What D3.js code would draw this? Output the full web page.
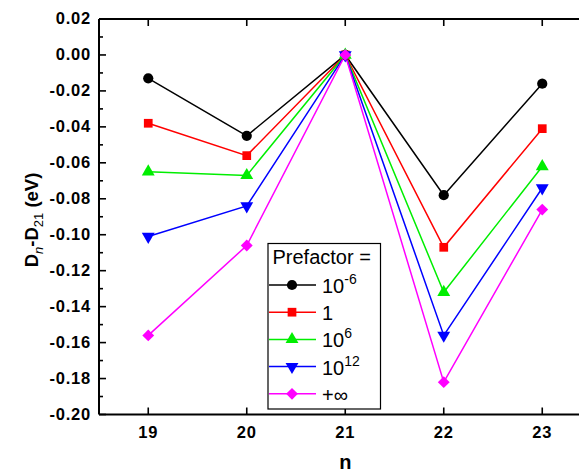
<!DOCTYPE html>
<html><head><meta charset="utf-8">
<script src="https://cdn.jsdelivr.net/npm/d3@7"></script>
<style>body{margin:0;background:#fff;} svg{display:block;font-family:Arial,"Liberation Sans",sans-serif;}</style>
</head><body>
<svg id="c" width="579" height="474"></svg>
<script>
const nValues = [19, 20, 21, 22, 23];
const seriesNames = ["1e-6", "1", "1e6", "1e12", "inf"];
const s1 = [-0.013, -0.045, 0, -0.078, -0.016];
const s2 = [-0.038, -0.056, 0, -0.107, -0.041];
const s3 = [-0.065, -0.067, 0, -0.132, -0.062];
const s4 = [-0.101, -0.084, 0, -0.156, -0.074];
const s5 = [-0.156, -0.106, 0, -0.182, -0.086];
const yTicks = [0.02, 0.00, -0.02, -0.04, -0.06, -0.08, -0.10, -0.12, -0.14, -0.16, -0.18, -0.20];
const colors = ["#000000", "#ff0000", "#00ee00", "#0000ff", "#ff00ff"];

const allSeries = [s1, s2, s3, s4, s5];
const svg = d3.select("#c");
const x = d3.scaleLinear().domain([18.5, 23.5]).range([99, 591.5]);
const y = d3.scaleLinear().domain([-0.20, 0.02]).range([414.5, 19]);

function markerPath(i) {
  if (i === 0) return d3.symbol().type(d3.symbolCircle).size(82)();
  if (i === 1) return d3.symbol().type(d3.symbolSquare).size(76)();
  if (i === 2 || i === 3) return d3.symbol().type(d3.symbolTriangle).size(72)();
  return d3.symbol().type(d3.symbolSquare).size(70)();
}
function markerTransform(i, px, py) {
  if (i === 3) return `translate(${px},${py}) rotate(180)`;
  if (i === 4) return `translate(${px},${py}) rotate(45)`;
  return `translate(${px},${py})`;
}

// series lines and markers
const line = d3.line().x((d, j) => x(nValues[j])).y(d => y(d));
allSeries.forEach((s, i) => {
  svg.append("path").datum(s).attr("d", line).attr("fill", "none")
    .attr("stroke", colors[i]).attr("stroke-width", 1.5);
});
allSeries.forEach((s, i) => {
  svg.selectAll(null).data(s).enter().append("path")
    .attr("d", markerPath(i))
    .attr("transform", (d, j) => markerTransform(i, x(nValues[j]), y(d)))
    .attr("fill", colors[i]);
});

// axes
const gBottom = svg.append("g").attr("transform", `translate(0,${y(-0.20)})`)
  .call(d3.axisBottom(x).offset(0).tickValues(nValues).tickSize(-7).tickPadding(12).tickFormat(d3.format("d")).tickSizeOuter(0));
const gTop = svg.append("g").attr("transform", `translate(0,${y(0.02)})`)
  .call(d3.axisTop(x).offset(0).tickValues(nValues).tickSize(-7).tickFormat("").tickSizeOuter(0));
const minorTicks = d3.range(0, 11).map(k => -0.19 + k * 0.02);
const gLeft = svg.append("g").attr("transform", `translate(${x(18.5)},0)`)
  .call(d3.axisLeft(y).offset(0).tickValues(yTicks).tickSize(-7).tickPadding(8).tickFormat(d3.format(".2f")).tickSizeOuter(0));
const gLeftMinor = svg.append("g").attr("transform", `translate(${x(18.5)},0)`)
  .call(d3.axisLeft(y).offset(0).tickValues(minorTicks).tickSize(-4).tickFormat("").tickSizeOuter(0));
gLeftMinor.select(".domain").remove();
[gBottom, gTop, gLeft, gLeftMinor].forEach(g => {
  g.selectAll(".domain").attr("stroke", "#000").attr("stroke-width", 2);
  g.selectAll(".tick line").attr("stroke", "#000").attr("stroke-width", 1.6);
  g.selectAll("text").attr("font-size", 16.5).attr("font-weight", "bold").attr("fill", "#000")
    .attr("letter-spacing", 0.8)
    .attr("font-family", "Arial, 'Liberation Sans', sans-serif");
});
gLeft.selectAll(".tick text").text(d => d3.format(".2f")(d).replace("\u2212", "-"));

// axis titles
svg.append("text").attr("x", x(21)).attr("y", 469).attr("text-anchor", "middle")
  .attr("font-size", 20).attr("font-weight", "bold").text("n");
const yl = svg.append("text").attr("transform", `translate(38,220) rotate(-90)`)
  .attr("text-anchor", "middle").attr("font-size", 18.5).attr("font-weight", "bold");
yl.append("tspan").text("D");
yl.append("tspan").text("n").attr("font-size", 13).attr("dy", 5).attr("font-style", "italic").attr("font-weight", "normal");
yl.append("tspan").text("-D").attr("dy", -5);
yl.append("tspan").text("21").attr("font-size", 13).attr("dy", 5).attr("font-weight", "normal");
yl.append("tspan").text(" (eV)").attr("dy", -5);

// legend
const lg = svg.append("g");
lg.append("rect").attr("x", 268).attr("y", 243.5).attr("width", 112.5).attr("height", 165.5)
  .attr("fill", "#fff").attr("stroke", "#000").attr("stroke-width", 1.2);
lg.append("text").attr("x", 272.5).attr("y", 264).attr("font-size", 20).text("Prefactor =");
const labelBase = ["10", "1", "10", "10", "+\u221e"];
const labelSup = ["-6", "", "6", "12", ""];
seriesNames.forEach((name, i) => {
  const cy = 285 + i * 27.2;
  lg.append("line").attr("x1", 269).attr("x2", 316).attr("y1", cy).attr("y2", cy)
    .attr("stroke", colors[i]).attr("stroke-width", 1.5);
  lg.append("path").attr("d", markerPath(i)).attr("transform", markerTransform(i, 292, cy)).attr("fill", colors[i]);
  const t = lg.append("text").attr("x", 322).attr("y", cy + 8).attr("font-size", 20);
  t.append("tspan").text(labelBase[i]);
  if (labelSup[i]) t.append("tspan").text(labelSup[i]).attr("font-size", 14).attr("dy", -9);
});
</script>
</body></html>
